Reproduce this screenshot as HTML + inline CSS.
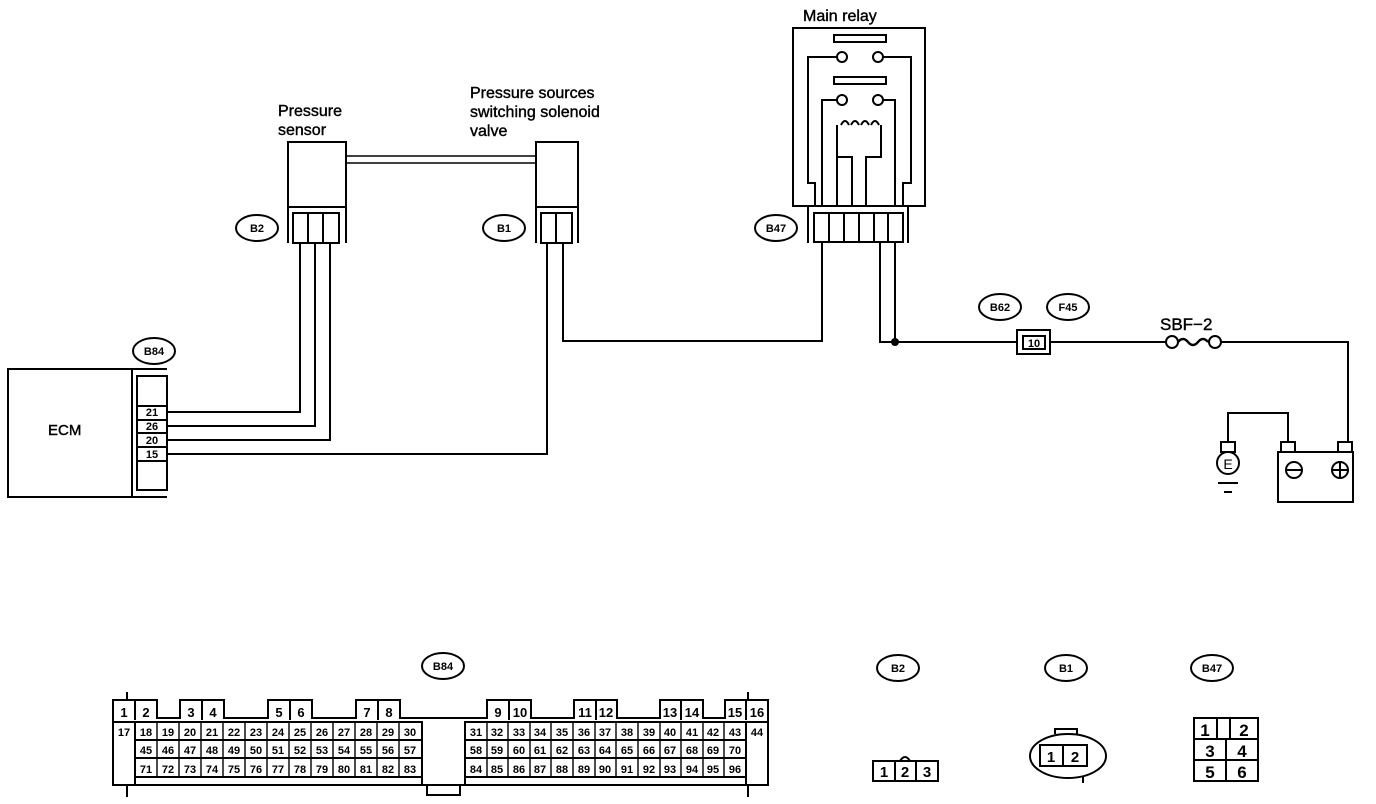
<!DOCTYPE html>
<html><head><meta charset="utf-8"><style>
html,body{margin:0;padding:0;background:#fff;}
svg{display:block;}
text{font-family:"Liberation Sans",sans-serif;fill:#000;}
.l{font-size:16px;stroke:#000;stroke-width:0.4;}
.o{font-size:11px;font-weight:bold;}
.p{font-size:13px;font-weight:bold;}
</style></head><body>
<svg width="1376" height="804" viewBox="0 0 1376 804" xmlns="http://www.w3.org/2000/svg">
<g fill="none" stroke="#000" stroke-width="2">
<!-- ECM -->
<rect x="8" y="369" width="124" height="128"/>
<path d="M132 369 H167"/>
<path d="M132 497 H167"/>
<rect x="137" y="376" width="30" height="114"/>
<path d="M137 406 H167 M137 420 H167 M137 433 H167 M137 447 H167 M137 461 H167"/>
<!-- ECM wires -->
<path d="M167 412 H300 V243"/>
<path d="M167 426 H315 V243"/>
<path d="M167 440 H330 V243"/>
<path d="M167 454 H547 V243"/>
<path d="M563 243 V341 H822 V243"/>
<!-- pressure sensor -->
<rect x="288" y="142" width="58" height="65"/>
<path d="M288 207 V243 M346 207 V243"/>
<rect x="293" y="213" width="46" height="30"/>
<path d="M308 213 V243 M323 213 V243"/>
<!-- hose -->
<path d="M346 156 H536 M346 163 H536" stroke-width="1.6"/>
<!-- solenoid -->
<rect x="536" y="142" width="42" height="65"/>
<path d="M536 207 V243 M578 207 V243"/>
<rect x="541" y="213" width="31" height="30"/>
<path d="M556 213 V243"/>
<!-- main relay -->
<rect x="793" y="28" width="132" height="178"/>
<path d="M808 206 V243 M908 206 V243"/>
<rect x="814" y="213" width="89" height="29"/>
<path d="M829 213 V242 M844 213 V242 M859 213 V242 M874 213 V242 M888 213 V242"/>
<rect x="834" y="35" width="52" height="7"/>
<rect x="834" y="77" width="52" height="7"/>
<circle cx="842" cy="57" r="5"/><circle cx="878" cy="57" r="5"/>
<circle cx="842" cy="100" r="5"/><circle cx="878" cy="100" r="5"/>
<path d="M837 57 H808 V183 H815 V206"/>
<path d="M883 57 H911 V183 H903 V206"/>
<path d="M837 100 H822 V206"/>
<path d="M883 100 H895 V206"/>
<path d="M837 206 V157 H852 V206 M866 206 V157 H881 V125"/>
<path d="M837 157 V125 M841 125 q4 -8 8 0 M851 125 q4 -8 8 0 M861 125 q4 -8 8 0 M871 125 q4 -8 8 0"/>
<path d="M822 243 V341"/>
<path d="M880 242 V342 H895 M895 242 V342 H1017"/>
<!-- F45 -->
<rect x="1017" y="330" width="33" height="24"/>
<rect x="1023" y="336" width="22" height="13"/>
<path d="M1050 342 H1166 M1221 342 H1348 V442"/>
<circle cx="1172" cy="342" r="6"/><circle cx="1215" cy="342" r="6"/>
<path d="M1178 342 q5 -6 10 0 t10 0 t10 0" stroke-width="2.5"/>
<!-- battery -->
<rect x="1278" y="452" width="75" height="50"/>
<rect x="1281" y="442" width="14" height="10"/>
<rect x="1338" y="442" width="14" height="10"/>
<circle cx="1294" cy="470" r="8"/><path d="M1286 470 H1302"/>
<circle cx="1340" cy="470" r="8"/><path d="M1332 470 H1348 M1340 462 V478"/>
<path d="M1288 442 V413 H1228 V442"/>
<rect x="1221" y="442" width="14" height="10"/>
<circle cx="1228" cy="463" r="11"/>
<path d="M1218 483 H1238 M1224 492 H1232"/>
<!-- ovals -->
<ellipse cx="257" cy="228" rx="21" ry="13"/>
<ellipse cx="504" cy="228" rx="21" ry="13"/>
<ellipse cx="776" cy="228" rx="21" ry="13"/>
<ellipse cx="154" cy="351" rx="21" ry="13"/>
<ellipse cx="1000" cy="307" rx="21" ry="13"/>
<ellipse cx="1068" cy="307" rx="21" ry="13"/>
<ellipse cx="443" cy="666" rx="21" ry="13"/>
<ellipse cx="898" cy="668" rx="21" ry="13"/>
<ellipse cx="1066" cy="668" rx="21" ry="13"/>
<ellipse cx="1212" cy="668" rx="21" ry="13"/>
<!-- B2 bottom -->
<rect x="873" y="761" width="65" height="20"/>
<path d="M895 761 V781 M916 761 V781 M900 761 q5 -8 10 0"/>
<!-- B1 bottom -->
<ellipse cx="1068" cy="756" rx="38" ry="22"/>
<rect x="1040" y="745" width="47" height="21"/>
<path d="M1063 745 V766 M1055 734 V729 H1077 V734 M1083 776 V783"/>
<!-- B47 bottom -->
<rect x="1194" y="718" width="64" height="63"/>
<path d="M1194 739 H1258 M1194 760 H1258 M1217 718 V739 M1230 718 V739 M1226 739 V781"/>
<!-- B84 bottom connector -->
<path d="M113 720 V785 H768 V720"/>
<path d="M127 700 V692 M748 700 V692 M127 785 V797 M748 785 V797 M427 785 V795 H460 V785"/>
<path d="M113 720 V700 H157 V718 H180 V700 H224 V718 H268 V700 H312 V718 H356 V700 H400 V718 H487 V700 H531 V718 H574 V700 H617 V718 H660 V700 H703 V718 H725 V700 H768 V720" />
<path d="M135 700 V720 M202 700 V720 M290 700 V720 M378 700 V720 M509 700 V720 M596 700 V720 M681 700 V720 M746 700 V720"/>
<path d="M113 722 H422 V785 M465 785 V722 H768"/>
<path d="M135 740 H422 M465 740 H746 M135 758 H422 M465 758 H746 M135 777 H422 M465 777 H746"/>
<path d="M135 722 V785 M746 722 V785"/>
</g>
<g stroke="#000" stroke-width="1.4">
<path d="M157 722 V777 M179 722 V777 M201 722 V777 M223 722 V777 M245 722 V777 M267 722 V777 M289 722 V777 M311 722 V777 M333 722 V777 M355 722 V777 M377 722 V777 M399 722 V777"/>
<path d="M487 722 V777 M508 722 V777 M530 722 V777 M551 722 V777 M573 722 V777 M595 722 V777 M616 722 V777 M638 722 V777 M660 722 V777 M681 722 V777 M703 722 V777 M724 722 V777"/>
</g>
<circle cx="895" cy="342" r="4" fill="#000"/>
<!-- labels -->
<text class="l" x="278" y="116">Pressure</text>
<text class="l" x="278" y="135">sensor</text>
<text class="l" x="470" y="98">Pressure sources</text>
<text class="l" x="470" y="117">switching solenoid</text>
<text class="l" x="470" y="136">valve</text>
<text class="l" x="803" y="21">Main relay</text>
<text class="l" x="1160" y="330" style="font-size:17px">SBF−2</text>
<text class="l" x="48" y="435" style="font-size:15px">ECM</text>
<text x="1228" y="469" text-anchor="middle" style="font-size:14px">E</text>
<text class="o" x="152" y="416" text-anchor="middle">21</text>
<text class="o" x="152" y="430" text-anchor="middle">26</text>
<text class="o" x="152" y="444" text-anchor="middle">20</text>
<text class="o" x="152" y="458" text-anchor="middle">15</text>
<g class="o" text-anchor="middle">
<text x="257" y="232">B2</text><text x="504" y="232">B1</text><text x="776" y="232">B47</text>
<text x="154" y="355">B84</text><text x="1000" y="311">B62</text><text x="1068" y="311">F45</text>
<text x="443" y="670">B84</text><text x="898" y="672">B2</text><text x="1066" y="672">B1</text><text x="1212" y="672">B47</text>
<text x="1034" y="347">10</text>
</g>
<g style="font-size:15px;font-weight:bold" text-anchor="middle">
<text x="884" y="777">1</text><text x="905" y="777">2</text><text x="927" y="777">3</text>
<text x="1051" y="762">1</text><text x="1075" y="762">2</text>
<text x="1205" y="736" style="font-size:17px">1</text><text x="1244" y="736" style="font-size:17px">2</text>
<text x="1210" y="757" style="font-size:17px">3</text><text x="1242" y="757" style="font-size:17px">4</text>
<text x="1210" y="778" style="font-size:17px">5</text><text x="1242" y="778" style="font-size:17px">6</text>
</g>
<g class="p" text-anchor="middle">
<text x="124" y="717">1</text><text x="146" y="717">2</text><text x="191" y="717">3</text><text x="213" y="717">4</text>
<text x="279" y="717">5</text><text x="301" y="717">6</text><text x="367" y="717">7</text><text x="389" y="717">8</text>
<text x="498" y="717">9</text><text x="520" y="717">10</text><text x="585" y="717">11</text><text x="606" y="717">12</text>
<text x="670" y="717">13</text><text x="692" y="717">14</text><text x="735" y="717">15</text><text x="757" y="717">16</text>
</g>
<g style="font-size:11px;font-weight:bold" text-anchor="middle">
<text x="124" y="736">17</text><text x="146" y="736">18</text><text x="168" y="736">19</text><text x="190" y="736">20</text><text x="212" y="736">21</text><text x="234" y="736">22</text><text x="256" y="736">23</text><text x="278" y="736">24</text><text x="300" y="736">25</text><text x="322" y="736">26</text><text x="344" y="736">27</text><text x="366" y="736">28</text><text x="388" y="736">29</text><text x="410" y="736">30</text>
<text x="476" y="736">31</text><text x="497" y="736">32</text><text x="519" y="736">33</text><text x="540" y="736">34</text><text x="562" y="736">35</text><text x="584" y="736">36</text><text x="605" y="736">37</text><text x="627" y="736">38</text><text x="649" y="736">39</text><text x="670" y="736">40</text><text x="692" y="736">41</text><text x="713" y="736">42</text><text x="735" y="736">43</text><text x="757" y="736">44</text>
<text x="146" y="754">45</text><text x="168" y="754">46</text><text x="190" y="754">47</text><text x="212" y="754">48</text><text x="234" y="754">49</text><text x="256" y="754">50</text><text x="278" y="754">51</text><text x="300" y="754">52</text><text x="322" y="754">53</text><text x="344" y="754">54</text><text x="366" y="754">55</text><text x="388" y="754">56</text><text x="410" y="754">57</text>
<text x="476" y="754">58</text><text x="497" y="754">59</text><text x="519" y="754">60</text><text x="540" y="754">61</text><text x="562" y="754">62</text><text x="584" y="754">63</text><text x="605" y="754">64</text><text x="627" y="754">65</text><text x="649" y="754">66</text><text x="670" y="754">67</text><text x="692" y="754">68</text><text x="713" y="754">69</text><text x="735" y="754">70</text>
<text x="146" y="773">71</text><text x="168" y="773">72</text><text x="190" y="773">73</text><text x="212" y="773">74</text><text x="234" y="773">75</text><text x="256" y="773">76</text><text x="278" y="773">77</text><text x="300" y="773">78</text><text x="322" y="773">79</text><text x="344" y="773">80</text><text x="366" y="773">81</text><text x="388" y="773">82</text><text x="410" y="773">83</text>
<text x="476" y="773">84</text><text x="497" y="773">85</text><text x="519" y="773">86</text><text x="540" y="773">87</text><text x="562" y="773">88</text><text x="584" y="773">89</text><text x="605" y="773">90</text><text x="627" y="773">91</text><text x="649" y="773">92</text><text x="670" y="773">93</text><text x="692" y="773">94</text><text x="713" y="773">95</text><text x="735" y="773">96</text>
</g>
</svg>
</body></html>
